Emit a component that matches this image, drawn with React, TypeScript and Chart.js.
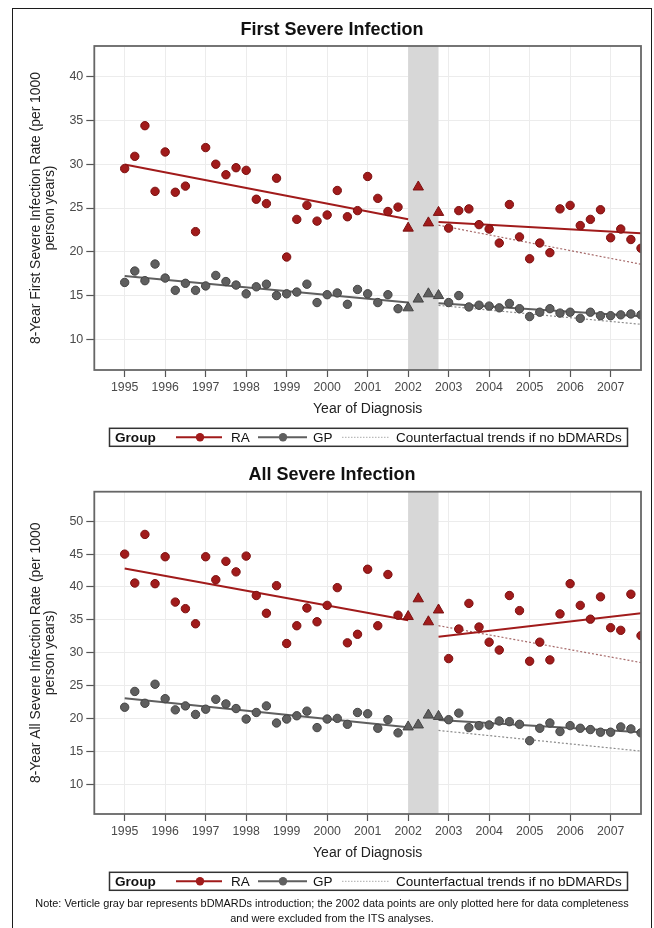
import React, { useEffect, useRef } from 'react';
import { Chart, registerables } from 'chart.js';

Chart.register(...registerables);

// ---------- data ----------
const quarters = [
  1995, 1995.25, 1995.5, 1995.75, 1996, 1996.25, 1996.5, 1996.75,
  1997, 1997.25, 1997.5, 1997.75, 1998, 1998.25, 1998.5, 1998.75,
  1999, 1999.25, 1999.5, 1999.75, 2000, 2000.25, 2000.5, 2000.75,
  2001, 2001.25, 2001.5, 2001.75, 2002, 2002.25, 2002.5, 2002.75,
  2003, 2003.25, 2003.5, 2003.75, 2004, 2004.25, 2004.5, 2004.75,
  2005, 2005.25, 2005.5, 2005.75, 2006, 2006.25, 2006.5, 2006.75,
  2007, 2007.25, 2007.5, 2007.75,
];
const yearTicks = [1995, 1996, 1997, 1998, 1999, 2000, 2001, 2002, 2003, 2004, 2005, 2006, 2007];
const firstYTicks = [10, 15, 20, 25, 30, 35, 40];
const allYTicks = [10, 15, 20, 25, 30, 35, 40, 45, 50];

const bdmardStart = 2002;
const bdmardEnd = 2002.75;
const preTrendX = [1995, 2002];
const postTrendX = [2002.75, 2007.75];

const firstRA = [
  29.5, 30.9, 34.4, 26.9, 31.4, 26.8, 27.5, 22.3,
  31.9, 30.0, 28.8, 29.6, 29.3, 26.0, 25.5, 28.4,
  19.4, 23.7, 25.3, 23.5, 24.2, 27.0, 24.0, 24.7,
  28.6, 26.1, 24.6, 25.1, 22.7, 27.4, 23.3, 24.5,
  22.7, 24.7, 24.9, 23.1, 22.6, 21.0, 25.4, 21.7,
  19.2, 21.0, 19.9, 24.9, 25.3, 23.0, 23.7, 24.8,
  21.6, 22.6, 21.4, 20.4,
];
const firstGP = [
  16.5, 17.8, 16.7, 18.6, 17.0, 15.6, 16.4, 15.6,
  16.1, 17.3, 16.6, 16.2, 15.2, 16.0, 16.3, 15.0,
  15.2, 15.4, 16.3, 14.2, 15.1, 15.3, 14.0, 15.7,
  15.2, 14.2, 15.1, 13.5, 13.6, 14.6, 15.2, 15.0,
  14.2, 15.0, 13.7, 13.9, 13.8, 13.6, 14.1, 13.5,
  12.6, 13.1, 13.5, 13.0, 13.1, 12.4, 13.1, 12.7,
  12.7, 12.8, 12.9, 12.8,
];
const firstRAPre = [29.96, 23.71];
const firstRAPost = [23.41, 22.12];
const firstRACounterfactual = [23.04, 18.58];
const firstGPPre = [17.23, 14.2];
const firstGPPost = [14.13, 12.65];
const firstGPCounterfactual = [13.88, 11.72];

const allRA = [
  45.0, 40.6, 48.0, 40.5, 44.6, 37.7, 36.7, 34.4,
  44.6, 41.1, 43.9, 42.3, 44.7, 38.7, 36.0, 40.2,
  31.4, 34.1, 36.8, 34.7, 37.2, 39.9, 31.5, 32.8,
  42.7, 34.1, 41.9, 35.7, 35.5, 38.2, 34.7, 36.5,
  29.1, 33.6, 37.5, 33.9, 31.6, 30.4, 38.7, 36.4,
  28.7, 31.6, 28.9, 35.9, 40.5, 37.2, 35.1, 38.5,
  33.8, 33.4, 38.9, 32.6,
];
const allGP = [
  21.7, 24.1, 22.3, 25.2, 23.0, 21.3, 21.9, 20.6,
  21.4, 22.9, 22.2, 21.5, 19.9, 20.9, 21.9, 19.3,
  19.9, 20.4, 21.1, 18.6, 19.9, 20.0, 19.1, 20.9,
  20.7, 18.5, 19.8, 17.8, 18.7, 19.0, 20.5, 20.3,
  19.8, 20.8, 18.6, 18.9, 19.0, 19.6, 19.5, 19.1,
  16.6, 18.5, 19.3, 18.0, 18.9, 18.5, 18.3, 17.9,
  17.9, 18.7, 18.4, 17.8,
];
const allRAPre = [42.81, 34.95];
const allRAPost = [32.42, 36.02];
const allRACounterfactual = [34.11, 28.5];
const allGPPre = [23.05, 18.64];
const allGPPost = [19.76, 17.88];
const allGPCounterfactual = [18.17, 15.02];

const legendTitle = 'Group';
const legendLabels = ['RA', 'GP', 'Counterfactual trends if no bDMARDs'];
const xTitle = 'Year of Diagnosis';
const noteLines = [
  'Note: Verticle gray bar represents bDMARDs introduction; the 2002 data points are only plotted here for data completeness',
  'and were excluded from the ITS analyses.',
];

// ---------- style ----------
const FONT = '"Liberation Sans", Arial, Helvetica, sans-serif';
const RED = '#a11b1b';
const RED_EDGE = '#7a1010';
const GRAY = '#5f5f5f';
const GRAY_EDGE = '#444444';
const RED_DOT = 'rgba(150,80,80,0.85)';
const GRAY_DOT = 'rgba(120,120,120,0.85)';

type PanelProps = {
  title: string;
  yTitle: string[];
  ra: number[];
  gp: number[];
  raPre: number[];
  raPost: number[];
  raCf: number[];
  gpPre: number[];
  gpPost: number[];
  gpCf: number[];
  yMin: number;
  yMax: number;
  yTicks: number[];
  top: number;
  titlePadTop: number;
  titlePadBottom: number;
  padBottom: number;
};

const CANVAS_W = 654;
const CANVAS_H = 455;
const PAD_LEFT = 23;
const PLOT_LEFT = 94.3;

const inBar = (x: number) => x >= bdmardStart && x <= bdmardEnd;
const toPts = (xs: number[], ys: number[]) => xs.map((x, i) => ({ x, y: ys[i] }));

const decorPlugin = {
  id: 'decor',
  beforeDatasetsDraw(chart: any) {
    const { ctx, chartArea: a, scales } = chart;
    const x0 = scales.x.getPixelForValue(bdmardStart);
    const x1 = scales.x.getPixelForValue(bdmardEnd);
    ctx.save();
    ctx.fillStyle = '#d7d7d7';
    ctx.fillRect(x0, a.top, x1 - x0, a.bottom - a.top);
    ctx.restore();
  },
  afterDraw(chart: any) {
    const { ctx, chartArea: a } = chart;
    ctx.save();
    // plot frame
    ctx.strokeStyle = '#666';
    ctx.lineWidth = 1.8;
    ctx.strokeRect(a.left, a.top, a.right - a.left, a.bottom - a.top);

    // legend box
    const lt = a.bottom + 58.3;
    const lh = 18;
    const lc = lt + lh / 2;
    ctx.strokeStyle = '#333';
    ctx.lineWidth = 1.5;
    ctx.strokeRect(109.5, lt, 518, lh);

    ctx.fillStyle = '#111';
    ctx.textBaseline = 'middle';
    ctx.textAlign = 'left';
    ctx.font = `bold 13.6px ${FONT}`;
    ctx.fillText(legendTitle, 115, lc + 0.5);

    const seg = (xa: number, xb: number, color: string, w: number, dash: number[]) => {
      ctx.beginPath();
      ctx.setLineDash(dash);
      ctx.strokeStyle = color;
      ctx.lineWidth = w;
      ctx.moveTo(xa, lc);
      ctx.lineTo(xb, lc);
      ctx.stroke();
      ctx.setLineDash([]);
    };
    const dot = (cx: number, color: string) => {
      ctx.beginPath();
      ctx.fillStyle = color;
      ctx.arc(cx, lc, 4.2, 0, Math.PI * 2);
      ctx.fill();
    };

    seg(176, 222, RED, 2, []);
    dot(200, RED);
    seg(258, 307, GRAY, 2, []);
    dot(283, GRAY);
    seg(342, 390, '#aaa', 1, [1.5, 1.5]);

    ctx.fillStyle = '#111';
    ctx.font = `13.5px ${FONT}`;
    ctx.fillText(legendLabels[0], 231, lc + 0.5);
    ctx.fillText(legendLabels[1], 313, lc + 0.5);
    ctx.fillText(legendLabels[2], 396, lc + 0.5);
    ctx.restore();
  },
};

function Panel(p: PanelProps) {
  const ref = useRef<HTMLCanvasElement | null>(null);

  useEffect(() => {
    if (!ref.current) return;
    const all = quarters.map((x, i) => ({ x, ra: p.ra[i], gp: p.gp[i] }));
    const raCircles = all.filter((d) => !inBar(d.x)).map((d) => ({ x: d.x, y: d.ra }));
    const raTri = all.filter((d) => inBar(d.x)).map((d) => ({ x: d.x, y: d.ra }));
    const gpCircles = all.filter((d) => !inBar(d.x)).map((d) => ({ x: d.x, y: d.gp }));
    const gpTri = all.filter((d) => inBar(d.x)).map((d) => ({ x: d.x, y: d.gp }));

    const marker = (data: any[], style: string, r: number, fill: string, edge: string) => ({
      data,
      showLine: false,
      pointStyle: style,
      pointRadius: r,
      pointHoverRadius: r,
      pointBackgroundColor: fill,
      pointBorderColor: edge,
      pointBorderWidth: 1,
    });
    const line = (data: any[], color: string, w: number, dash: number[]) => ({
      data,
      showLine: true,
      borderColor: color,
      borderWidth: w,
      borderDash: dash,
      pointRadius: 0,
      pointHoverRadius: 0,
      fill: false,
    });

    const chart = new Chart(ref.current, {
      type: 'scatter',
      data: {
        datasets: [
          { label: 'RA', ...marker(raCircles, 'circle', 4.2, RED, RED_EDGE) },
          { label: 'RA 2002', ...marker(raTri, 'triangle', 6, RED, RED_EDGE) },
          { label: 'GP', ...marker(gpCircles, 'circle', 4.2, GRAY, GRAY_EDGE) },
          { label: 'GP 2002', ...marker(gpTri, 'triangle', 6, GRAY, GRAY_EDGE) },
          { label: 'RA pre', ...line(toPts(preTrendX, p.raPre), RED, 2, []) },
          { label: 'RA post', ...line(toPts(postTrendX, p.raPost), RED, 2, []) },
          { label: 'GP pre', ...line(toPts(preTrendX, p.gpPre), GRAY, 2, []) },
          { label: 'GP post', ...line(toPts(postTrendX, p.gpPost), GRAY, 2, []) },
          { label: 'RA cf', ...line(toPts(postTrendX, p.raCf), RED_DOT, 1.2, [2, 2]) },
          { label: 'GP cf', ...line(toPts(postTrendX, p.gpCf), GRAY_DOT, 1.2, [2, 2]) },
        ] as any,
      },
      options: {
        animation: false,
        responsive: false,
        events: [],
        layout: { padding: { left: PAD_LEFT, right: 13, top: 0, bottom: p.padBottom } },
        plugins: {
          legend: { display: false },
          tooltip: { enabled: false },
          title: {
            display: true,
            text: p.title,
            color: '#111',
            font: { family: FONT, size: 18, weight: 'bold', lineHeight: 1.2 },
            padding: { top: p.titlePadTop, bottom: p.titlePadBottom },
          },
        },
        scales: {
          x: {
            type: 'linear',
            min: 1994.25,
            max: 2007.75,
            afterFit: (s: any) => {
              s.height = 50;
            },
            afterBuildTicks: (s: any) => {
              s.ticks = yearTicks.map((v) => ({ value: v }));
            },
            ticks: {
              autoSkip: false,
              maxRotation: 0,
              padding: 3,
              color: '#4a4a4a',
              font: { family: FONT, size: 12.3 },
              callback: (v: any) => String(v),
            },
            grid: { color: '#ececec', lineWidth: 1, tickLength: 7, tickColor: '#555', tickWidth: 1.2 },
            border: { display: false },
            title: {
              display: true,
              text: xTitle,
              color: '#222',
              font: { family: FONT, size: 14, lineHeight: 1.2 },
              padding: { top: 0, bottom: 2 },
            },
          },
          y: {
            type: 'linear',
            min: p.yMin,
            max: p.yMax,
            afterFit: (s: any) => {
              s.width = PLOT_LEFT - PAD_LEFT;
            },
            afterBuildTicks: (s: any) => {
              s.ticks = p.yTicks.map((v) => ({ value: v }));
            },
            ticks: {
              padding: 3,
              color: '#4a4a4a',
              font: { family: FONT, size: 12.5 },
              callback: (v: any) => String(v),
            },
            grid: { color: '#ececec', lineWidth: 1, tickLength: 8, tickColor: '#555', tickWidth: 1.2 },
            border: { display: false },
            title: {
              display: true,
              text: p.yTitle,
              color: '#222',
              font: { family: FONT, size: 13.9, lineHeight: 1.0 },
              padding: { top: 36 - PAD_LEFT - 6.95, bottom: 0 },
            },
          },
        },
      } as any,
      plugins: [decorPlugin],
    });
    return () => chart.destroy();
  }, []);

  return (
    <canvas
      ref={ref}
      width={CANVAS_W}
      height={CANVAS_H}
      style={{ position: 'absolute', left: 0, top: p.top, width: CANVAS_W, height: CANVAS_H }}
    />
  );
}

export default function App() {
  return (
    <div
      style={{
        position: 'fixed',
        left: 0,
        top: 0,
        width: 654,
        height: 928,
        background: '#fff',
        overflow: 'hidden',
      }}
    >
      <div
        style={{
          position: 'absolute',
          left: 12,
          top: 8,
          width: 639.5,
          height: 960,
          border: '1.5px solid #1c1c1c',
          boxSizing: 'border-box',
        }}
      />
      <Panel
        title="First Severe Infection"
        yTitle={['8-Year First Severe Infection Rate (per 1000', 'person years)']}
        ra={firstRA}
        gp={firstGP}
        raPre={firstRAPre}
        raPost={firstRAPost}
        raCf={firstRACounterfactual}
        gpPre={firstGPPre}
        gpPost={firstGPPost}
        gpCf={firstGPCounterfactual}
        yMin={6.5}
        yMax={43.5}
        yTicks={firstYTicks}
        top={0}
        titlePadTop={19.2}
        titlePadBottom={5.2}
        padBottom={35}
      />
      <Panel
        title="All Severe Infection"
        yTitle={['8-Year All Severe Infection Rate (per 1000', 'person years)']}
        ra={allRA}
        gp={allGP}
        raPre={allRAPre}
        raPost={allRAPost}
        raCf={allRACounterfactual}
        gpPre={allGPPre}
        gpPost={allGPPost}
        gpCf={allGPCounterfactual}
        yMin={5.45}
        yMax={54.5}
        yTicks={allYTicks}
        top={445}
        titlePadTop={18.8}
        titlePadBottom={6.3}
        padBottom={36}
      />
      <div
        style={{
          position: 'absolute',
          left: 12,
          top: 895.5,
          width: 640,
          textAlign: 'center',
          fontFamily: FONT,
          fontSize: 10.9,
          lineHeight: '15px',
          color: '#111',
          whiteSpace: 'nowrap',
        }}
      >
        {noteLines[0]}
        <br />
        {noteLines[1]}
      </div>
    </div>
  );
}
